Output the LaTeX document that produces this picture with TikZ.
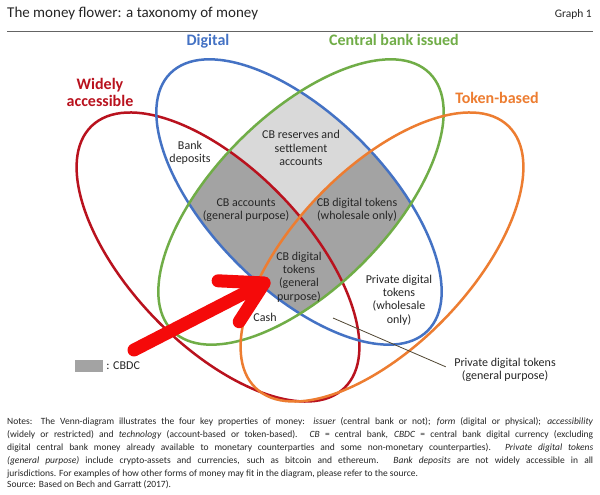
\documentclass[tikz,border=0pt]{standalone}
\usepackage{fontspec}
\setmainfont{Carlito}
\usepackage{xcolor}
\usepackage{tikz}
\usetikzlibrary{positioning,arrows.meta}

\definecolor{digblue}{RGB}{68,114,196}
\definecolor{cbgreen}{RGB}{112,173,71}
\definecolor{widered}{RGB}{185,18,30}
\definecolor{tokorange}{RGB}{237,125,49}
\definecolor{arrowred}{RGB}{245,10,10}
\definecolor{cbdclight}{RGB}{217,217,217}
\definecolor{cbdcdark}{RGB}{163,163,163}
\definecolor{inktext}{RGB}{38,38,38}
\definecolor{leadcol}{RGB}{80,70,50}
\definecolor{rulecol}{RGB}{100,100,100}

\newcommand{\headfont}{\fontsize{16}{17}\selectfont\bfseries}
\newcommand{\labfont}{\fontsize{12}{13.3}\selectfont}
\newcommand{\notefont}{\fontsize{9.5}{13}\selectfont}

\begin{document}
\begin{tikzpicture}[
        x=1pt, y=1pt,
        eldig/.style ={shift={(299,293)}, rotate=-45, x radius=182pt, y radius=87pt},
        elcb/.style  ={shift={(301,293)}, rotate=45,  x radius=182pt, y radius=87pt},
        elwide/.style={shift={(218,238)}, rotate=-46, x radius=182pt, y radius=88pt},
        eltok/.style ={shift={(382,238)}, rotate=46,  x radius=182pt, y radius=88pt},
        ring/.style ={line width=2.5pt},
        grouplab/.style={font=\headfont, align=center, inner sep=0pt},
        lab/.style ={font=\labfont, text=inktext, align=center, inner sep=1pt},
        leader/.style={leadcol, line width=0.8pt, shorten >=8pt},
        bigarrow/.style={-{Straight Barb[length=40pt, width=46pt, round]},
            line width=13pt, arrowred, line cap=round}
    ]
        \path[use as bounding box, fill=white] (0,0) rectangle (600,495);

        % title
        \node[anchor=base west, inner sep=0pt, font=\fontsize{15}{17}\selectfont, text=inktext]
            (title) at (7,477) {The money flower: a taxonomy of money};
        \node[anchor=base east, inner sep=0pt, font=\fontsize{11.5}{13}\selectfont, text=inktext]
            (graphno) at (592,477) {Graph 1};
        \draw[rulecol, line width=0.8pt] (7,464) -- (593,464);

        % shaded CBDC areas
        \begin{scope}
            \clip[eldig] (0,0) ellipse;
            \clip[elcb] (0,0) ellipse;
            \fill[cbdclight] (0,0) rectangle (600,495);
            \fill[cbdcdark, elwide] (0,0) ellipse;
            \fill[cbdcdark, eltok] (0,0) ellipse;
        \end{scope}

        % the four sets
        \draw[ring, widered, elwide] (0,0) ellipse;
        \draw[ring, digblue, eldig] (0,0) ellipse;
        \draw[ring, cbgreen, elcb] (0,0) ellipse;
        \draw[ring, tokorange, eltok] (0,0) ellipse;

        \node[grouplab, text=digblue, anchor=base] (digital) at (208,449) {Digital};
        \node[grouplab, text=cbgreen, anchor=base] (cbissued) at (394,449) {Central bank issued};
        \node[grouplab, text=widered] (widely) at (100,403) {Widely\\accessible};
        \node[grouplab, text=tokorange, anchor=base] (token) at (497,391) {Token-based};

        % region labels
        \node[lab] (bankdep)  at (190,342) {Bank\\deposits};
        \node[lab] (reserves) at (301,347) {CB reserves and\\settlement\\accounts};
        \node[lab] (cbacc)    at (246,285) {CB accounts\\(general purpose)};
        \node[lab] (cbwhole)  at (357,285) {CB digital tokens\\(wholesale only)};
        \node[lab] (cbgen)    at (299,218) {CB digital\\tokens\\(general\\purpose)};
        \node[lab] (privwhole) at (399,195) {Private digital\\tokens\\(wholesale\\only)};
        \node[lab] (cash)     at (265,178) {Cash};
        \node[lab] (privgen)  at (505,125) {Private digital tokens\\(general purpose)};

        \coordinate (pdtpoint) at (333,177);
        \draw[leader] (pdtpoint) -- (privgen.west);

        % pointer to the CBDC area
        \coordinate (arrowtail) at (134,145);
        \coordinate (arrowtip)  at (270,215);
        \draw[bigarrow] (arrowtail) -- (arrowtip);

        % key
        \node[fill=cbdcdark, minimum width=28pt, minimum height=12pt, inner sep=0pt]
            (cbdckey) at (89,129) {};
        \node[lab, right=2pt of cbdckey] (cbdctext) {: CBDC};

        % notes
        \node[anchor=north west, inner sep=0pt, font=\notefont, text=inktext, align=left]
            (notes) at (7,78) {%
            \makebox[586pt][s]{Notes: The Venn-diagram illustrates the four key properties of money: \textit{issuer} (central bank or not); \textit{form} (digital or physical); \textit{accessibility}}\\
            \makebox[586pt][s]{(widely or restricted) and \textit{technology} (account-based or token-based). \textit{CB} = central bank, \textit{CBDC} = central bank digital currency (excluding}\\
            \makebox[586pt][s]{digital central bank money already available to monetary counterparties and some non-monetary counterparties). \textit{Private digital tokens}}\\
            \makebox[586pt][s]{\textit{(general purpose)} include crypto-assets and currencies, such as bitcoin and ethereum. \textit{Bank deposits} are not widely accessible in all}\\
            jurisdictions. For examples of how other forms of money may fit in the diagram, please refer to the source.};
        \node[anchor=base west, inner sep=0pt, font=\notefont, text=inktext]
            (source) at (7,7.5) {Source: Based on Bech and Garratt (2017).};
    \end{tikzpicture}
\end{document}
